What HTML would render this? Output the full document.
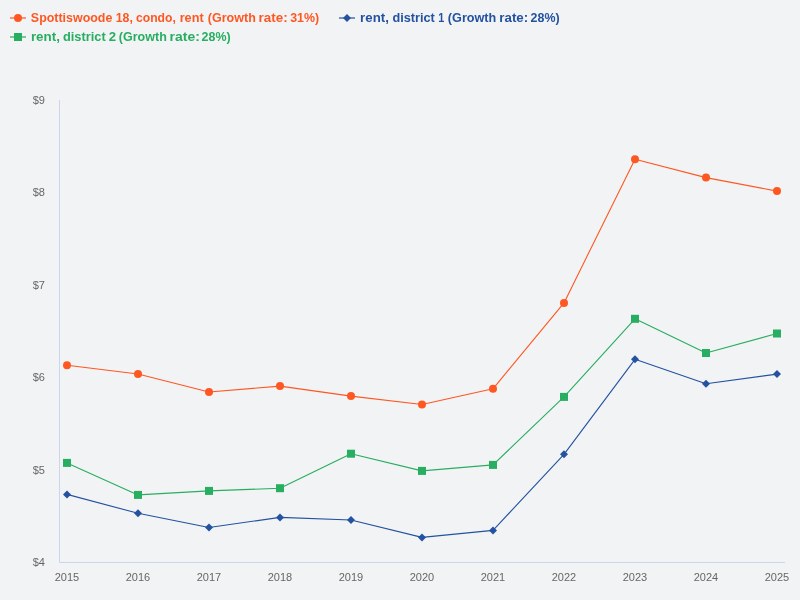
<!DOCTYPE html>
<html><head><meta charset="utf-8"><style>
html,body{margin:0;padding:0;background:#F2F3F5;}
svg{display:block;will-change:transform;}
.t{font-family:"Liberation Sans",sans-serif;font-size:11px;fill:#666666;}
.lg{font-family:"Liberation Sans",sans-serif;font-size:12px;font-weight:bold;}
</style></head><body>
<svg width="800" height="600" viewBox="0 0 800 600">
<rect width="800" height="600" fill="#F2F3F5"/>
<path d="M59.5 100 V562.5 H785" fill="none" stroke="#ccd6eb" stroke-width="1"/>
<text x="45" y="104.0" text-anchor="end" class="t">$9</text>
<text x="45" y="196.4" text-anchor="end" class="t">$8</text>
<text x="45" y="288.8" text-anchor="end" class="t">$7</text>
<text x="45" y="381.2" text-anchor="end" class="t">$6</text>
<text x="45" y="473.6" text-anchor="end" class="t">$5</text>
<text x="45" y="566.0" text-anchor="end" class="t">$4</text>
<text x="67" y="581" text-anchor="middle" class="t">2015</text>
<text x="138" y="581" text-anchor="middle" class="t">2016</text>
<text x="209" y="581" text-anchor="middle" class="t">2017</text>
<text x="280" y="581" text-anchor="middle" class="t">2018</text>
<text x="351" y="581" text-anchor="middle" class="t">2019</text>
<text x="422" y="581" text-anchor="middle" class="t">2020</text>
<text x="493" y="581" text-anchor="middle" class="t">2021</text>
<text x="564" y="581" text-anchor="middle" class="t">2022</text>
<text x="635" y="581" text-anchor="middle" class="t">2023</text>
<text x="706" y="581" text-anchor="middle" class="t">2024</text>
<text x="777" y="581" text-anchor="middle" class="t">2025</text>
<polyline points="67,365.2 138,374.0 209,392.0 280,386.1 351,396.1 422,404.5 493,388.8 564,302.9 635,159.2 706,177.6 777,191.1" fill="none" stroke="#FF5722" stroke-width="1.1" stroke-linejoin="round" stroke-linecap="round"/>
<polyline points="67,494.4 138,513.3 209,527.5 280,517.4 351,520.0 422,537.4 493,530.4 564,454.3 635,359.3 706,383.7 777,374.1" fill="none" stroke="#2352A0" stroke-width="1.1" stroke-linejoin="round" stroke-linecap="round"/>
<polyline points="67,462.9 138,494.9 209,490.9 280,488.2 351,453.7 422,470.9 493,464.9 564,396.9 635,318.8 706,353.0 777,333.5" fill="none" stroke="#27AE60" stroke-width="1.1" stroke-linejoin="round" stroke-linecap="round"/>
<circle cx="67" cy="365.2" r="4" fill="#FF5722"/>
<circle cx="138" cy="374.0" r="4" fill="#FF5722"/>
<circle cx="209" cy="392.0" r="4" fill="#FF5722"/>
<circle cx="280" cy="386.1" r="4" fill="#FF5722"/>
<circle cx="351" cy="396.1" r="4" fill="#FF5722"/>
<circle cx="422" cy="404.5" r="4" fill="#FF5722"/>
<circle cx="493" cy="388.8" r="4" fill="#FF5722"/>
<circle cx="564" cy="302.9" r="4" fill="#FF5722"/>
<circle cx="635" cy="159.2" r="4" fill="#FF5722"/>
<circle cx="706" cy="177.6" r="4" fill="#FF5722"/>
<circle cx="777" cy="191.1" r="4" fill="#FF5722"/>
<path d="M67 490.4 L71 494.4 L67 498.4 L63 494.4Z" fill="#2352A0"/>
<path d="M138 509.3 L142 513.3 L138 517.3 L134 513.3Z" fill="#2352A0"/>
<path d="M209 523.5 L213 527.5 L209 531.5 L205 527.5Z" fill="#2352A0"/>
<path d="M280 513.4 L284 517.4 L280 521.4 L276 517.4Z" fill="#2352A0"/>
<path d="M351 516.0 L355 520.0 L351 524.0 L347 520.0Z" fill="#2352A0"/>
<path d="M422 533.4 L426 537.4 L422 541.4 L418 537.4Z" fill="#2352A0"/>
<path d="M493 526.4 L497 530.4 L493 534.4 L489 530.4Z" fill="#2352A0"/>
<path d="M564 450.3 L568 454.3 L564 458.3 L560 454.3Z" fill="#2352A0"/>
<path d="M635 355.3 L639 359.3 L635 363.3 L631 359.3Z" fill="#2352A0"/>
<path d="M706 379.7 L710 383.7 L706 387.7 L702 383.7Z" fill="#2352A0"/>
<path d="M777 370.1 L781 374.1 L777 378.1 L773 374.1Z" fill="#2352A0"/>
<rect x="63" y="458.9" width="8" height="8" fill="#27AE60"/>
<rect x="134" y="490.9" width="8" height="8" fill="#27AE60"/>
<rect x="205" y="486.9" width="8" height="8" fill="#27AE60"/>
<rect x="276" y="484.2" width="8" height="8" fill="#27AE60"/>
<rect x="347" y="449.7" width="8" height="8" fill="#27AE60"/>
<rect x="418" y="466.9" width="8" height="8" fill="#27AE60"/>
<rect x="489" y="460.9" width="8" height="8" fill="#27AE60"/>
<rect x="560" y="392.9" width="8" height="8" fill="#27AE60"/>
<rect x="631" y="314.8" width="8" height="8" fill="#27AE60"/>
<rect x="702" y="349.0" width="8" height="8" fill="#27AE60"/>
<rect x="773" y="329.5" width="8" height="8" fill="#27AE60"/>
<path d="M10 18 H26" stroke="#FF5722" stroke-width="2" opacity="0.6"/><circle cx="18" cy="18" r="4" fill="#FF5722"/><text transform="translate(30.84,22) scale(1.0366,1)" class="lg" fill="#FF5722">Spottiswoode</text><text transform="translate(115.68,22) scale(1.0265,1)" class="lg" fill="#FF5722">18,</text><text transform="translate(135.99,22) scale(1.0132,1)" class="lg" fill="#FF5722">condo,</text><text transform="translate(179.65,22) scale(1.0599,1)" class="lg" fill="#FF5722">rent</text><text transform="translate(207.87,22) scale(1.0426,1)" class="lg" fill="#FF5722">(Growth</text><text transform="translate(258.60,22) scale(1.1203,1)" class="lg" fill="#FF5722">rate:</text><text transform="translate(290.19,22) scale(1.0332,1)" class="lg" fill="#FF5722">31%)</text>
<path d="M339 18 H355" stroke="#2352A0" stroke-width="2" opacity="0.6"/><path d="M347 14 L351 18 L347 22 L343 18Z" fill="#2352A0"/><text transform="translate(360.11,22) scale(1.1066,1)" class="lg" fill="#2352A0">rent,</text><text transform="translate(392.47,22) scale(1.0560,1)" class="lg" fill="#2352A0">district</text><text transform="translate(438.27,22) scale(0.9091,1)" class="lg" fill="#2352A0">1</text><text transform="translate(447.87,22) scale(1.0538,1)" class="lg" fill="#2352A0">(Growth</text><text transform="translate(499.36,22) scale(1.1100,1)" class="lg" fill="#2352A0">rate:</text><text transform="translate(530.59,22) scale(1.0370,1)" class="lg" fill="#2352A0">28%)</text>
<path d="M10 37 H26" stroke="#27AE60" stroke-width="2" opacity="0.6"/><rect x="14" y="33" width="8" height="8" fill="#27AE60"/><text transform="translate(30.91,41) scale(1.1148,1)" class="lg" fill="#27AE60">rent,</text><text transform="translate(62.97,41) scale(1.0687,1)" class="lg" fill="#27AE60">district</text><text transform="translate(108.86,41) scale(1.1034,1)" class="lg" fill="#27AE60">2</text><text transform="translate(118.87,41) scale(1.0426,1)" class="lg" fill="#27AE60">(Growth</text><text transform="translate(169.57,41) scale(1.1618,1)" class="lg" fill="#27AE60">rate:</text><text transform="translate(201.59,41) scale(1.0370,1)" class="lg" fill="#27AE60">28%)</text>
</svg></body></html>
